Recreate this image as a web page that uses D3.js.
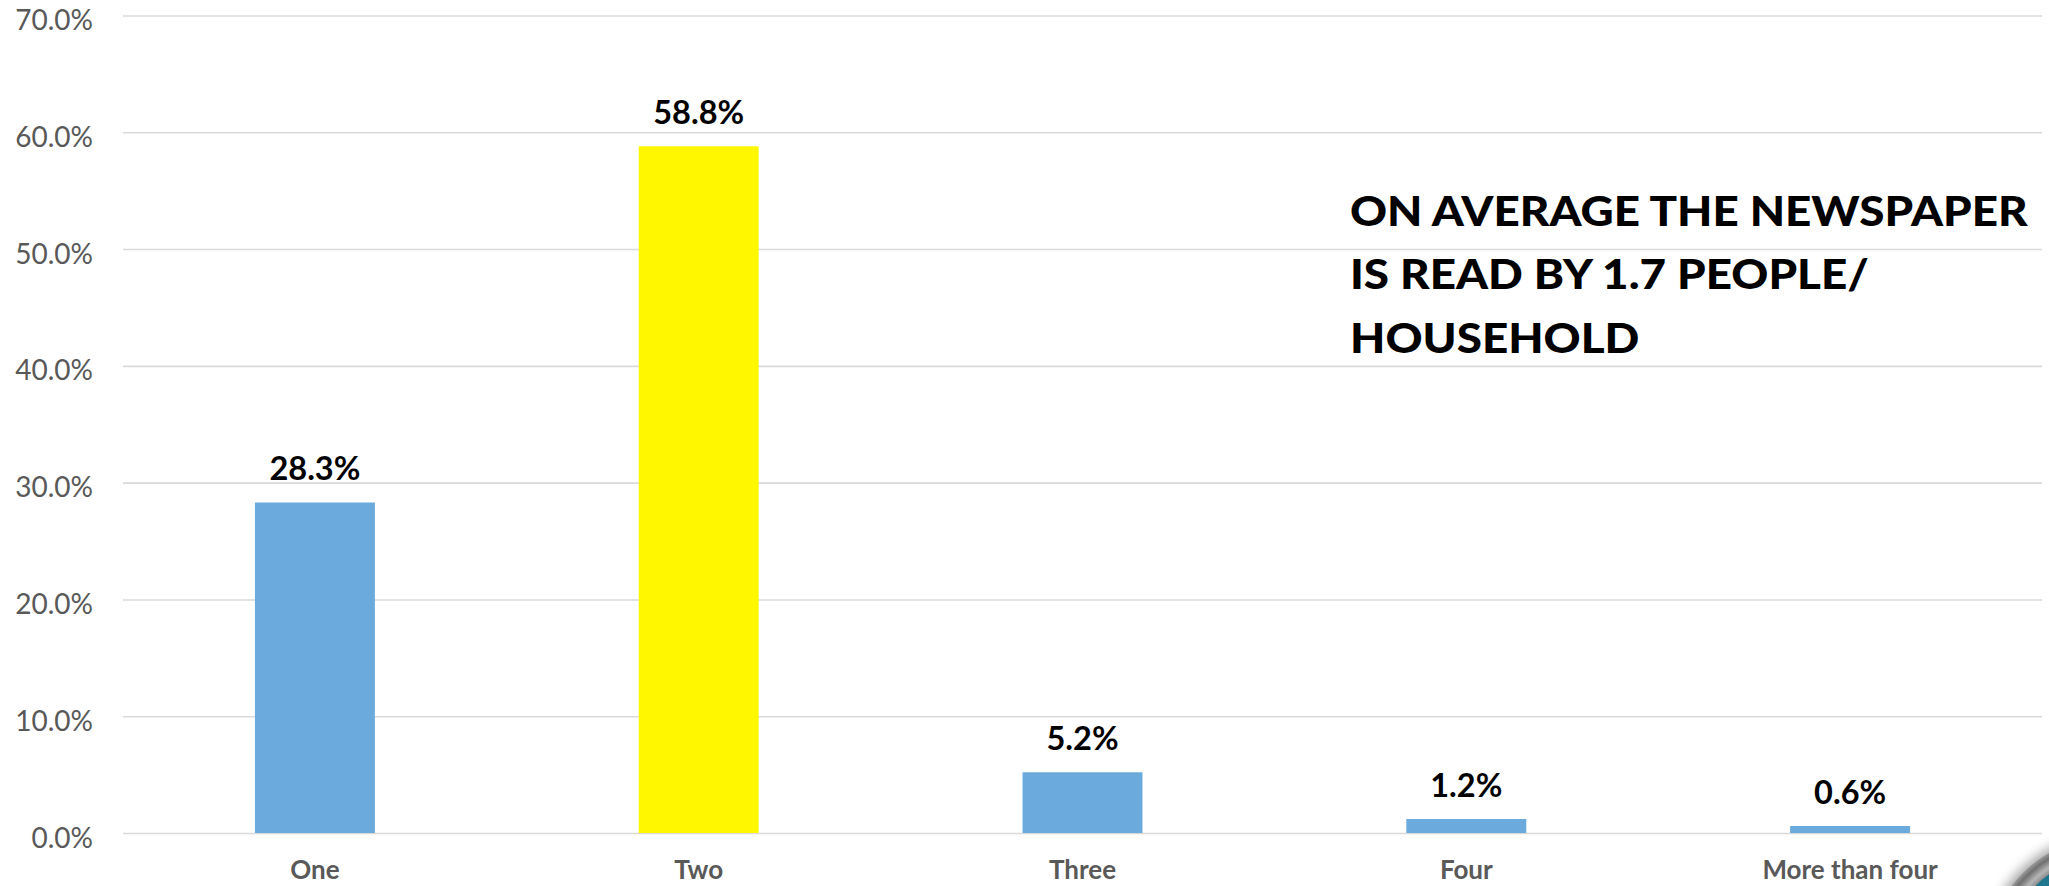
<!DOCTYPE html>
<html>
<head>
<meta charset="utf-8">
<script src="https://cdn.jsdelivr.net/npm/d3@7"></script>
<style>
  html, body { margin: 0; padding: 0; background: #ffffff; }
  svg { display: block; }
</style>
</head>
<body>
<svg id="chart" width="2049" height="886"></svg>
<script>
// Readers per household
const categories = ["One", "Two", "Three", "Four", "More than four"];
const shares = [28.3, 58.8, 5.2, 1.2, 0.6];
const highlighted = "Two";
const yTicks = [0, 10, 20, 30, 40, 50, 60, 70];
const noteLines = ["ON AVERAGE THE NEWSPAPER", "IS READ BY 1.7 PEOPLE/", "HOUSEHOLD"];

const W = 2049, H = 886;
const plot = { left: 123, right: 2042, top: 15.5, bottom: 833 };
const FONT = "Lato, 'Open Sans', sans-serif";
const BLUE = "#6aaadc", YELLOW = "#fff700", GRID = "#d9d9d9";

const svg = d3.select("#chart");

const x = d3.scaleBand()
  .domain(categories)
  .range([plot.left, plot.right])
  .paddingInner(0.6875)
  .paddingOuter(0.34375);

const y = d3.scaleLinear()
  .domain([0, 70])
  .range([plot.bottom, plot.top]);

// Horizontal gridlines with percentage labels
const yAxis = d3.axisLeft(y)
  .tickValues(yTicks)
  .tickSize(-(plot.right - plot.left))
  .tickPadding(30)
  .tickFormat(d => d3.format(".1f")(d) + "%");

const gy = svg.append("g")
  .attr("transform", `translate(${plot.left},0)`)
  .call(yAxis);
gy.select(".domain").remove();
gy.selectAll(".tick line").attr("stroke", GRID).attr("stroke-width", 1.6);
gy.selectAll(".tick text")
  .attr("fill", "#595959")
  .attr("font-family", FONT)
  .attr("font-size", 28)
  .attr("dy", "0.5em");

// Bars
const data = categories.map((c, i) => ({ cat: c, v: shares[i] }));
svg.append("g").selectAll("rect")
  .data(data)
  .join("rect")
  .attr("x", d => x(d.cat))
  .attr("width", x.bandwidth())
  .attr("y", d => y(d.v))
  .attr("height", d => y(0) - y(d.v))
  .attr("fill", d => d.cat === highlighted ? YELLOW : BLUE);

// Value labels above bars
svg.append("g").selectAll("text")
  .data(data)
  .join("text")
  .attr("x", d => x(d.cat) + x.bandwidth() / 2)
  .attr("y", d => y(d.v) - 22)
  .attr("text-anchor", "middle")
  .attr("font-family", FONT)
  .attr("font-weight", 700)
  .attr("font-size", 32.5)
  .attr("fill", "#000")
  .text(d => d3.format(".1f")(d.v) + "%");

// Category axis
const xAxis = d3.axisBottom(x).tickSize(0).tickPadding(0);
const gx = svg.append("g")
  .attr("transform", `translate(0,${plot.bottom})`)
  .call(xAxis);
gx.select(".domain").remove();
gx.selectAll(".tick text")
  .attr("fill", "#595959")
  .attr("font-family", FONT)
  .attr("font-weight", 700)
  .attr("font-size", 26)
  .attr("dy", 0)
  .attr("y", 46);

// Note text
const note = svg.append("g").attr("class", "note");
const noteText = note.append("text")
  .attr("font-family", FONT)
  .attr("font-weight", 900)
  .attr("font-size", 42)
  .attr("fill", "#000");
noteText.selectAll("tspan")
  .data(noteLines)
  .join("tspan")
  .attr("x", 0)
  .attr("y", (d, i) => i * 63.5)
  .text(d => d);
const firstWidth = noteText.select("tspan").node().getComputedTextLength();
const sx = 678 / firstWidth;
note.attr("transform", `translate(1350,226) scale(${sx},1)`);

// Corner badge
const defs = svg.append("defs");
const rim = defs.append("radialGradient").attr("id", "rim")
  .attr("cx", "50%").attr("cy", "50%").attr("r", "50%");
rim.append("stop").attr("offset", "80%").attr("stop-color", "#5a5a5a");
rim.append("stop").attr("offset", "90%").attr("stop-color", "#b5b5b5");
rim.append("stop").attr("offset", "96%").attr("stop-color", "#707070");
rim.append("stop").attr("offset", "100%").attr("stop-color", "#9a9a9a");
const teal = defs.append("radialGradient").attr("id", "teal")
  .attr("cx", "35%").attr("cy", "30%").attr("r", "70%");
teal.append("stop").attr("offset", "0%").attr("stop-color", "#2a8aa3");
teal.append("stop").attr("offset", "100%").attr("stop-color", "#0b4f63");
defs.append("filter").attr("id", "soft")
  .append("feGaussianBlur").attr("stdDeviation", 6);

const badge = svg.append("g");
badge.append("circle").attr("cx", 2112).attr("cy", 962).attr("r", 130)
  .attr("fill", "#000").attr("opacity", 0.35).attr("filter", "url(#soft)");
badge.append("circle").attr("cx", 2112).attr("cy", 962).attr("r", 126)
  .attr("fill", "url(#rim)");
badge.append("circle").attr("cx", 2112).attr("cy", 962).attr("r", 108)
  .attr("fill", "url(#teal)");
</script>
</body>
</html>
